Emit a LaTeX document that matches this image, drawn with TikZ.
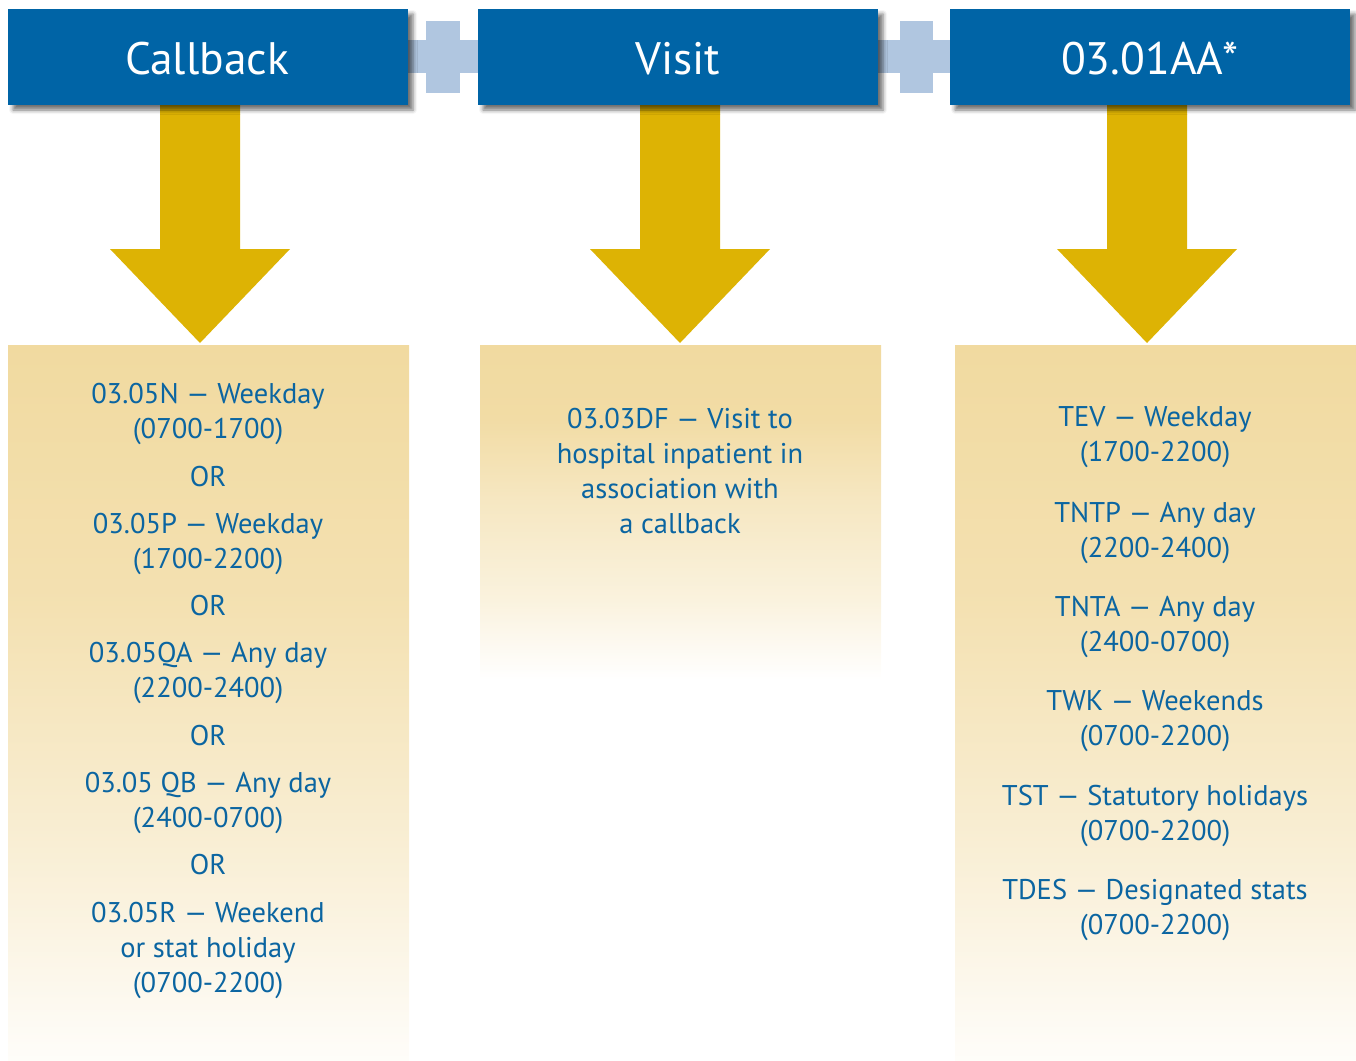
\documentclass[tikz,border=0pt]{standalone}
\usepackage{fontspec}
\setmainfont{PT Sans}
\usetikzlibrary{shadows.blur}
\definecolor{hdrblue}{HTML}{0064A6}
\definecolor{txtblue}{HTML}{0B65A1}
\definecolor{tanc}{HTML}{F1DAA0}
\definecolor{goldc}{HTML}{DDB304}
\definecolor{linkc}{HTML}{B0C6E0}
\pgfdeclareverticalshading{longfade}{100bp}{color(0bp)=(tanc!6); color(25bp)=(tanc!6); color(40bp)=(tanc!45); color(57bp)=(tanc!82); color(75bp)=(tanc); color(100bp)=(tanc)}
\pgfdeclareverticalshading{shortfade}{100bp}{color(0bp)=(white); color(25bp)=(white); color(37bp)=(tanc!35); color(52bp)=(tanc!65); color(64bp)=(tanc!95); color(75bp)=(tanc); color(100bp)=(tanc)}
\tikzset{
  hdr/.style={fill=hdrblue, draw=none, blur shadow={shadow xshift=5pt, shadow yshift=-5pt, shadow blur radius=4pt, shadow opacity=55}},
  hdrtxt/.style={text=white, font=\fontsize{45.5}{52}\selectfont, inner sep=0pt},
  body/.style={text=txtblue, font=\fontsize{28.5}{35}\selectfont, align=center, inner sep=0pt},
  link/.style={fill=linkc, draw=none},
  arr/.style={fill=goldc, draw=none}
}
\begin{document}
\begin{tikzpicture}[x=1pt,y=-1pt]
\useasboundingbox (0,0) rectangle (1356,1060);
% panels
\path[shading=longfade] (8,345) rectangle (409,1060);
\path[shading=shortfade] (480,345) rectangle (881,680);
\path[shading=longfade] (955,345) rectangle (1356,1060);
% connectors
\fill[link] (400,40) rectangle (485,73);
\fill[link] (426,21) rectangle (460,93);
\fill[link] (870,40) rectangle (955,73);
\fill[link] (900,21) rectangle (933,93);
% arrows
\fill[arr] (160,100) -- (240,100) -- (240,249) -- (290,249) -- (200,343) -- (110,249) -- (160,249) -- cycle;
\fill[arr] (640,100) -- (720,100) -- (720,249) -- (770,249) -- (680,343) -- (590,249) -- (640,249) -- cycle;
\fill[arr] (1107,100) -- (1187,100) -- (1187,249) -- (1237,249) -- (1147,343) -- (1057,249) -- (1107,249) -- cycle;
% headers
\path[hdr] (8,9) rectangle (408,105);
\path[hdr] (478,9) rectangle (878,105);
\path[hdr] (950,9) rectangle (1350,105);
\node[hdrtxt] (h1) at (207,59) {Callback};
\node[hdrtxt] (h2) at (678,59) {Visit};
\node[hdrtxt] (h3) at (1150,59) {03.01AA*};
% callback column
\node[body] (c1) at (208,413.5) {03.05N — Weekday\\(0700-1700)};
\node[body] (o1) at (208,476.5) {OR};
\node[body] (c2) at (208,543.5) {03.05P — Weekday\\(1700-2200)};
\node[body] (o2) at (208,605.5) {OR};
\node[body] (c3) at (208,673) {03.05QA — Any day\\(2200-2400)};
\node[body] (o3) at (208,735.5) {OR};
\node[body] (c4) at (208,802.5) {03.05 QB — Any day\\(2400-0700)};
\node[body] (o4) at (208,864.5) {OR};
\node[body] (c5) at (208,950) {03.05R — Weekend\\or stat holiday\\(0700-2200)};
% visit column
\node[body] (v1) at (680,471) {03.03DF — Visit to\\hospital inpatient in\\association with\\a callback};
% third column
\node[body] (t1) at (1155,437.5) {TEV — Weekday\\(1700-2200)};
\node[body] (t2) at (1155,532.5) {TNTP — Any day\\(2200-2400)};
\node[body] (t3) at (1155,626.5) {TNTA — Any day\\(2400-0700)};
\node[body] (t4) at (1155,721) {TWK — Weekends\\(0700-2200)};
\node[body] (t5) at (1155,815.5) {TST — Statutory holidays\\(0700-2200)};
\node[body] (t6) at (1155,909.5) {TDES — Designated stats\\(0700-2200)};
\end{tikzpicture}
\end{document}
